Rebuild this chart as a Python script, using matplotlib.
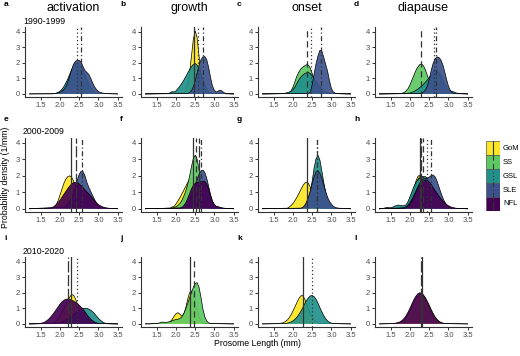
import matplotlib
matplotlib.use("Agg")
import matplotlib.pyplot as plt
from matplotlib.patches import Rectangle

plt.rcParams['font.family'] = ['Liberation Sans', 'DejaVu Sans']

# ---------------- data ----------------
REGIONS = ["GoM", "SS", "GSL", "SLE", "NFL"]
COLORS = {"GoM": "#FDE725", "SS": "#5DC863", "GSL": "#21908C", "SLE": "#3B528B", "NFL": "#440154"}
LINESTYLES = {"GoM": "-", "SS": (0, (5, 3)), "GSL": (0, (1, 2)), "SLE": (0, (4, 2, 1, 2)), "NFL": (0, (9, 2))}
STAGES = ["activation", "growth", "onset", "diapause"]
PERIODS = ["1990-1999", "2000-2009", "2010-2020"]
PANEL_LETTERS = ["a", "b", "c", "d", "e", "f", "g", "h", "i", "j", "k", "l"]
X_RANGE = (1.2, 3.5)
X_TICKS = [1.5, 2.0, 2.5, 3.0, 3.5]
Y_TICKS = [0, 1, 2, 3, 4]

# density curves (prosome length mm, density 1/mm)
a_GSL = [(1.85,0.02),(1.9,0.05),(1.95,0.1),(2.0,0.18),(2.05,0.3),(2.1,0.48),(2.15,0.7),(2.2,0.95),(2.25,1.25),(2.3,1.55),(2.35,1.8),(2.4,1.95),(2.45,2.0),(2.5,1.95),(2.55,1.8),(2.6,1.55),(2.65,1.25),(2.7,0.95),(2.75,0.65),(2.8,0.4),(2.85,0.25),(2.9,0.13),(2.95,0.07),(3.0,0.03)]
a_SLE = [(1.8,0.0),(1.9,0.03),(2.0,0.1),(2.05,0.17),(2.1,0.28),(2.15,0.45),(2.2,0.75),(2.25,1.15),(2.3,1.55),(2.35,1.9),(2.4,2.1),(2.45,2.15),(2.5,2.15),(2.55,2.05),(2.6,1.75),(2.65,1.5),(2.7,1.38),(2.75,1.25),(2.8,1.0),(2.85,0.7),(2.9,0.45),(2.95,0.28),(3.0,0.15),(3.05,0.1),(3.1,0.06),(3.15,0.04),(3.2,0.02),(3.3,0.01)]

b_GoM = [(2.2,0.05),(2.25,0.2),(2.3,0.55),(2.35,1.3),(2.4,2.4),(2.45,3.5),(2.5,4.05),(2.55,3.6),(2.6,2.4),(2.65,1.2),(2.7,0.45),(2.75,0.15),(2.8,0.04)]
b_GSL = [(1.8,0.02),(1.85,0.08),(1.9,0.15),(1.95,0.12),(2.0,0.2),(2.05,0.35),(2.1,0.5),(2.15,0.68),(2.2,0.88),(2.25,1.1),(2.3,1.33),(2.35,1.55),(2.4,1.75),(2.45,1.9),(2.5,1.95),(2.55,1.85),(2.6,1.6),(2.65,1.25),(2.7,0.9),(2.75,0.55),(2.8,0.3),(2.85,0.15),(2.9,0.07),(2.95,0.03)]
b_SLE = [(2.3,0.02),(2.35,0.08),(2.4,0.2),(2.45,0.45),(2.5,0.85),(2.55,1.35),(2.6,1.85),(2.65,2.2),(2.7,2.38),(2.75,2.4),(2.8,2.2),(2.85,1.7),(2.9,1.05),(2.95,0.5),(3.0,0.22),(3.05,0.12),(3.1,0.18),(3.15,0.24),(3.2,0.18),(3.25,0.08),(3.3,0.03)]

c_SS = [(1.85,0.02),(1.9,0.06),(1.95,0.2),(2.0,0.45),(2.05,0.8),(2.1,1.15),(2.15,1.4),(2.2,1.6),(2.25,1.72),(2.3,1.8),(2.35,1.88),(2.4,1.85),(2.45,1.65),(2.5,1.3),(2.55,0.9),(2.6,0.55),(2.65,0.3),(2.7,0.15),(2.75,0.07),(2.8,0.03)]
c_GSL = [(1.75,0.02),(1.8,0.05),(1.85,0.08),(1.9,0.12),(1.95,0.18),(2.0,0.28),(2.05,0.45),(2.1,0.68),(2.15,0.9),(2.2,1.08),(2.25,1.2),(2.3,1.3),(2.35,1.35),(2.4,1.38),(2.45,1.3),(2.5,1.15),(2.55,1.0),(2.6,0.8),(2.65,0.6),(2.7,0.45),(2.75,0.3),(2.8,0.2),(2.85,0.12),(2.9,0.07),(2.95,0.04),(3.0,0.02)]
c_SLE = [(2.4,0.03),(2.45,0.12),(2.5,0.6),(2.55,1.3),(2.6,1.95),(2.65,2.45),(2.7,2.8),(2.75,2.75),(2.8,2.35),(2.85,1.9),(2.9,1.45),(2.95,0.85),(3.0,0.35),(3.05,0.12),(3.1,0.05),(3.15,0.02)]

d_SS = [(1.75,0.02),(1.8,0.05),(1.85,0.1),(1.9,0.2),(1.95,0.35),(2.0,0.6),(2.05,0.9),(2.1,1.2),(2.15,1.5),(2.2,1.72),(2.25,1.88),(2.3,1.93),(2.35,1.8),(2.4,1.55),(2.45,1.2),(2.5,0.85),(2.55,0.55),(2.6,0.3),(2.65,0.15),(2.7,0.07),(2.75,0.03)]
d_GSL = [(1.9,0.02),(2.0,0.06),(2.1,0.15),(2.2,0.3),(2.3,0.5),(2.4,0.75),(2.5,1.05),(2.6,1.4),(2.65,1.55),(2.7,1.55),(2.8,1.2),(2.9,0.6),(3.0,0.25),(3.1,0.15),(3.15,0.12),(3.2,0.06),(3.3,0.02)]
d_SLE = [(2.25,0.02),(2.3,0.05),(2.35,0.12),(2.4,0.25),(2.45,0.5),(2.5,0.95),(2.55,1.5),(2.6,1.95),(2.65,2.25),(2.7,2.38),(2.75,2.35),(2.8,2.2),(2.85,1.9),(2.9,1.45),(2.95,0.95),(3.0,0.5),(3.05,0.22),(3.1,0.08),(3.15,0.03)]

e_GoM = [(1.8,0.03),(1.85,0.1),(1.9,0.25),(1.95,0.5),(2.0,0.85),(2.05,1.2),(2.1,1.55),(2.15,1.8),(2.2,1.95),(2.25,2.0),(2.3,1.92),(2.35,1.7),(2.4,1.35),(2.45,1.0),(2.5,0.65),(2.55,0.4),(2.6,0.22),(2.65,0.1),(2.7,0.04)]
e_SLE = [(2.1,0.1),(2.2,0.3),(2.3,0.7),(2.35,1.0),(2.4,1.35),(2.45,1.75),(2.5,2.1),(2.55,2.28),(2.6,2.25),(2.65,2.0),(2.7,1.6),(2.75,1.3),(2.8,1.05),(2.85,0.8),(2.9,0.55),(2.95,0.35),(3.0,0.2),(3.1,0.08),(3.2,0.03)]
e_NFL = [(1.75,0.03),(1.8,0.07),(1.85,0.15),(1.9,0.25),(1.95,0.38),(2.0,0.52),(2.05,0.7),(2.1,0.88),(2.15,1.05),(2.2,1.22),(2.25,1.38),(2.3,1.5),(2.35,1.58),(2.4,1.6),(2.45,1.58),(2.5,1.5),(2.55,1.4),(2.6,1.28),(2.65,1.15),(2.7,1.02),(2.75,0.9),(2.8,0.78),(2.85,0.62),(2.9,0.48),(2.95,0.35),(3.0,0.25),(3.05,0.18),(3.1,0.12),(3.15,0.08),(3.2,0.05),(3.3,0.02)]

f_GoM = [(1.85,0.03),(1.9,0.06),(1.95,0.15),(2.0,0.3),(2.05,0.48),(2.1,0.68),(2.15,0.9),(2.2,1.12),(2.25,1.35),(2.3,1.58),(2.35,1.75),(2.4,1.85),(2.45,1.8),(2.5,1.6),(2.55,1.3),(2.6,0.95),(2.65,0.62),(2.7,0.35),(2.75,0.18),(2.8,0.08),(2.85,0.03)]
f_SS = [(1.85,0.03),(1.9,0.12),(1.95,0.08),(2.0,0.12),(2.05,0.2),(2.1,0.32),(2.15,0.5),(2.2,0.75),(2.25,1.05),(2.3,1.45),(2.35,1.95),(2.4,2.55),(2.45,3.05),(2.5,3.25),(2.55,3.0),(2.6,2.35),(2.65,1.6),(2.7,0.95),(2.75,0.5),(2.8,0.25),(2.85,0.1),(2.9,0.04)]
f_SLE = [(2.2,0.05),(2.25,0.12),(2.3,0.25),(2.35,0.45),(2.4,0.75),(2.45,1.1),(2.5,1.45),(2.55,1.8),(2.6,2.1),(2.65,2.3),(2.7,2.35),(2.75,2.2),(2.8,1.85),(2.85,1.35),(2.9,0.85),(2.95,0.45),(3.0,0.22),(3.05,0.12),(3.1,0.1),(3.15,0.06),(3.2,0.03)]
f_NFL = [(2.1,0.03),(2.15,0.08),(2.2,0.18),(2.25,0.35),(2.3,0.6),(2.35,0.9),(2.4,1.2),(2.45,1.42),(2.5,1.55),(2.55,1.6),(2.6,1.62),(2.65,1.65),(2.7,1.68),(2.75,1.65),(2.8,1.5),(2.85,1.2),(2.9,0.8),(2.95,0.45),(3.0,0.25),(3.05,0.15),(3.1,0.12),(3.15,0.08),(3.2,0.05),(3.3,0.02)]

g_GoM = [(1.85,0.03),(1.9,0.1),(1.95,0.2),(2.0,0.33),(2.05,0.5),(2.1,0.7),(2.15,0.92),(2.2,1.15),(2.25,1.38),(2.3,1.55),(2.35,1.62),(2.4,1.55),(2.45,1.3),(2.5,0.95),(2.55,0.6),(2.6,0.32),(2.65,0.15),(2.7,0.06),(2.75,0.02)]
g_GSL = [(2.25,0.03),(2.3,0.1),(2.35,0.3),(2.4,0.6),(2.45,1.05),(2.5,1.7),(2.55,2.5),(2.6,3.05),(2.65,3.25),(2.7,2.95),(2.75,2.3),(2.8,1.6),(2.85,1.0),(2.9,0.55),(2.95,0.28),(3.0,0.12),(3.05,0.05),(3.1,0.02)]
g_SLE = [(2.2,0.03),(2.25,0.08),(2.3,0.2),(2.35,0.4),(2.4,0.7),(2.45,1.1),(2.5,1.55),(2.55,1.95),(2.6,2.25),(2.65,2.3),(2.7,2.15),(2.75,1.85),(2.8,1.45),(2.85,1.05),(2.9,0.7),(2.95,0.45),(3.0,0.28),(3.05,0.15),(3.1,0.07),(3.2,0.03),(3.3,0.02),(3.4,0.01)]

h_GoM = [(1.85,0.03),(1.9,0.1),(1.95,0.25),(2.0,0.5),(2.05,0.85),(2.1,1.25),(2.15,1.65),(2.2,1.95),(2.25,2.05),(2.3,1.9),(2.35,1.55),(2.4,1.1),(2.45,0.7),(2.5,0.38),(2.55,0.18),(2.6,0.07),(2.65,0.02)]
h_SS = [(1.8,0.02),(1.85,0.06),(1.9,0.15),(1.95,0.3),(2.0,0.52),(2.05,0.8),(2.1,1.12),(2.15,1.45),(2.2,1.75),(2.25,1.95),(2.3,2.0),(2.35,1.9),(2.4,1.65),(2.45,1.3),(2.5,0.92),(2.55,0.6),(2.6,0.35),(2.65,0.18),(2.7,0.08),(2.75,0.03)]
h_GSL = [(1.4,0.02),(1.5,0.05),(1.55,0.1),(1.6,0.16),(1.65,0.2),(1.7,0.22),(1.75,0.2),(1.8,0.18),(1.85,0.18),(1.9,0.25),(1.95,0.45),(2.0,0.75),(2.05,1.05),(2.1,1.35),(2.15,1.6),(2.2,1.75),(2.25,1.85),(2.3,1.9),(2.35,1.95),(2.4,1.95),(2.45,1.88),(2.5,1.7),(2.55,1.45),(2.6,1.15),(2.65,0.85),(2.7,0.58),(2.75,0.38),(2.8,0.22),(2.85,0.12),(2.9,0.06),(2.95,0.03)]
h_SLE = [(1.3,0.02),(1.35,0.05),(1.4,0.08),(1.45,0.06),(1.5,0.04),(1.6,0.03),(1.7,0.04),(1.8,0.06),(1.9,0.12),(1.95,0.22),(2.0,0.38),(2.05,0.58),(2.1,0.82),(2.15,1.08),(2.2,1.32),(2.25,1.55),(2.3,1.72),(2.35,1.82),(2.4,1.85),(2.45,1.85),(2.5,1.92),(2.55,2.02),(2.6,2.05),(2.65,1.95),(2.7,1.7),(2.75,1.35),(2.8,1.0),(2.85,0.68),(2.9,0.42),(2.95,0.25),(3.0,0.14),(3.05,0.07),(3.1,0.03)]
h_NFL = [(1.85,0.02),(1.9,0.06),(1.95,0.15),(2.0,0.3),(2.05,0.5),(2.1,0.75),(2.15,1.0),(2.2,1.25),(2.25,1.45),(2.3,1.6),(2.35,1.7),(2.4,1.75),(2.45,1.72),(2.5,1.62),(2.55,1.48),(2.6,1.3),(2.65,1.12),(2.7,0.95),(2.75,0.78),(2.8,0.62),(2.85,0.48),(2.9,0.36),(2.95,0.26),(3.0,0.18),(3.05,0.12),(3.1,0.08),(3.15,0.05),(3.2,0.03),(3.3,0.01)]

i_GoM = [(1.8,0.03),(1.85,0.08),(1.9,0.18),(1.95,0.32),(2.0,0.52),(2.05,0.75),(2.1,1.0),(2.15,1.25),(2.2,1.5),(2.25,1.72),(2.3,1.88),(2.35,1.85),(2.4,1.62),(2.45,1.3),(2.5,0.95),(2.55,0.62),(2.6,0.38),(2.65,0.2),(2.7,0.1),(2.75,0.04)]
i_GSL = [(1.9,0.03),(2.0,0.08),(2.1,0.18),(2.2,0.32),(2.3,0.5),(2.4,0.7),(2.45,0.8),(2.5,0.88),(2.55,0.95),(2.6,0.98),(2.65,1.0),(2.7,1.0),(2.75,0.95),(2.8,0.88),(2.85,0.78),(2.9,0.65),(2.95,0.5),(3.0,0.36),(3.05,0.24),(3.1,0.14),(3.15,0.07),(3.2,0.03),(3.25,0.01)]
i_NFL = [(1.45,0.02),(1.5,0.04),(1.55,0.07),(1.6,0.12),(1.65,0.2),(1.7,0.3),(1.75,0.43),(1.8,0.58),(1.85,0.75),(1.9,0.92),(1.95,1.1),(2.0,1.28),(2.05,1.42),(2.1,1.52),(2.15,1.58),(2.2,1.6),(2.25,1.58),(2.3,1.53),(2.35,1.47),(2.4,1.4),(2.45,1.3),(2.5,1.2),(2.55,1.08),(2.6,0.95),(2.65,0.78),(2.7,0.6),(2.75,0.44),(2.8,0.3),(2.85,0.2),(2.9,0.12),(2.95,0.07),(3.0,0.04),(3.05,0.02)]

j_GoM = [(1.55,0.02),(1.6,0.05),(1.65,0.06),(1.7,0.06),(1.75,0.06),(1.8,0.08),(1.85,0.15),(1.9,0.3),(1.95,0.5),(2.0,0.66),(2.05,0.72),(2.1,0.62),(2.15,0.5),(2.2,0.62),(2.25,1.0),(2.3,1.55),(2.35,2.0),(2.4,2.12),(2.45,1.85),(2.5,1.35),(2.55,0.85),(2.6,0.45),(2.65,0.2),(2.7,0.08),(2.75,0.03)]
j_SS = [(1.5,0.02),(1.55,0.05),(1.6,0.1),(1.65,0.12),(1.7,0.1),(1.75,0.1),(1.8,0.12),(1.85,0.15),(1.9,0.2),(1.95,0.25),(2.0,0.28),(2.05,0.3),(2.1,0.35),(2.15,0.45),(2.2,0.65),(2.25,0.95),(2.3,1.3),(2.35,1.65),(2.4,2.0),(2.45,2.35),(2.5,2.6),(2.55,2.65),(2.6,2.35),(2.65,1.7),(2.7,0.95),(2.75,0.45),(2.8,0.18),(2.85,0.07),(2.9,0.02)]

k_GoM = [(1.6,0.02),(1.7,0.05),(1.75,0.08),(1.8,0.15),(1.85,0.25),(1.9,0.4),(1.95,0.6),(2.0,0.85),(2.05,1.1),(2.1,1.38),(2.15,1.62),(2.2,1.8),(2.25,1.82),(2.3,1.62),(2.35,1.3),(2.4,0.95),(2.45,0.65),(2.5,0.42),(2.55,0.25),(2.6,0.14),(2.65,0.07),(2.7,0.03)]
k_GSL = [(1.8,0.02),(1.85,0.05),(1.9,0.08),(1.95,0.13),(2.0,0.2),(2.05,0.3),(2.1,0.43),(2.15,0.6),(2.2,0.8),(2.25,1.03),(2.3,1.28),(2.35,1.5),(2.4,1.68),(2.45,1.8),(2.5,1.83),(2.55,1.75),(2.6,1.58),(2.65,1.33),(2.7,1.05),(2.75,0.78),(2.8,0.53),(2.85,0.33),(2.9,0.19),(2.95,0.1),(3.0,0.05),(3.05,0.02)]

l_GoM = [(1.6,0.02),(1.7,0.06),(1.75,0.1),(1.8,0.17),(1.85,0.27),(1.9,0.42),(1.95,0.62),(2.0,0.87),(2.05,1.15),(2.1,1.42),(2.15,1.65),(2.2,1.82),(2.25,1.92),(2.3,1.93),(2.35,1.85),(2.4,1.68),(2.45,1.45),(2.5,1.2),(2.55,0.93),(2.6,0.68),(2.65,0.46),(2.7,0.3),(2.75,0.18),(2.8,0.1),(2.85,0.05),(2.9,0.02)]
l_NFL = [(1.5,0.02),(1.6,0.04),(1.7,0.09),(1.75,0.15),(1.8,0.24),(1.85,0.37),(1.9,0.55),(1.95,0.77),(2.0,1.02),(2.05,1.3),(2.1,1.56),(2.15,1.78),(2.2,1.93),(2.25,2.0),(2.3,1.97),(2.35,1.85),(2.4,1.65),(2.45,1.4),(2.5,1.13),(2.55,0.86),(2.6,0.62),(2.65,0.42),(2.7,0.27),(2.75,0.16),(2.8,0.09),(2.85,0.05),(2.9,0.02)]

# mean prosome length per region (vertical lines)
MEANS = {
    "a": {"GSL": 2.45, "SLE": 2.55},
    "b": {"GoM": 2.48, "GSL": 2.57, "SLE": 2.71},
    "c": {"SS": 2.36, "GSL": 2.46, "SLE": 2.72},
    "d": {"SS": 2.28, "GSL": 2.62, "SLE": 2.67},
    "e": {"GoM": 2.29, "NFL": 2.41, "SLE": 2.57},
    "f": {"GoM": 2.45, "SS": 2.52, "NFL": 2.6, "SLE": 2.66},
    "g": {"GoM": 2.36, "GSL": 2.62, "SLE": 2.63},
    "h": {"GoM": 2.25, "NFL": 2.29, "SS": 2.33, "GSL": 2.43, "SLE": 2.54},
    "i": {"NFL": 2.21, "GoM": 2.29, "GSL": 2.43},
    "j": {"GoM": 2.37, "SS": 2.47},
    "k": {"GoM": 2.27, "GSL": 2.5},
    "l": {"NFL": 2.29, "GoM": 2.3},
}

CURVES = {
    "a": {"GSL": a_GSL, "SLE": a_SLE},
    "b": {"GoM": b_GoM, "GSL": b_GSL, "SLE": b_SLE},
    "c": {"SS": c_SS, "GSL": c_GSL, "SLE": c_SLE},
    "d": {"SS": d_SS, "GSL": d_GSL, "SLE": d_SLE},
    "e": {"GoM": e_GoM, "SLE": e_SLE, "NFL": e_NFL},
    "f": {"GoM": f_GoM, "SS": f_SS, "SLE": f_SLE, "NFL": f_NFL},
    "g": {"GoM": g_GoM, "GSL": g_GSL, "SLE": g_SLE},
    "h": {"GoM": h_GoM, "SS": h_SS, "GSL": h_GSL, "SLE": h_SLE, "NFL": h_NFL},
    "i": {"GoM": i_GoM, "GSL": i_GSL, "NFL": i_NFL},
    "j": {"GoM": j_GoM, "SS": j_SS},
    "k": {"GoM": k_GoM, "GSL": k_GSL},
    "l": {"GoM": l_GoM, "NFL": l_NFL},
}

# ---------------- layout (pixels) ----------------
W, H = 520, 356
fig = plt.figure(figsize=(W / 100, H / 100), dpi=100)

COL_LEFT = [25, 141, 258, 375]
PANEL_W = 97
ROW_BOX = [(27, 97), (138, 212), (257, 327)]  # top, bottom
YLIM = (-0.2, 4.3)
XLIM = (1.085, 3.615)
AX_COLOR = "#333333"
TICK_TXT = "#4D4D4D"


def px_axes(left, top, right, bottom):
    return fig.add_axes([left / W, 1 - bottom / H, (right - left) / W, (bottom - top) / H])


for r in range(3):
    top, bottom = ROW_BOX[r]
    for c in range(4):
        key = PANEL_LETTERS[r * 4 + c]
        left = COL_LEFT[c]
        ax = px_axes(left, top, left + PANEL_W, bottom)
        z = 2
        for reg in REGIONS:
            if reg not in CURVES[key]:
                continue
            pts = CURVES[key][reg]
            xs = [X_RANGE[0]] + [p[0] for p in pts] + [X_RANGE[1]]
            ys = [0.0] + [p[1] for p in pts] + [0.0]
            ax.fill_between(xs, 0, ys, facecolor=COLORS[reg], alpha=0.92, linewidth=0, zorder=z)
            ax.plot(xs, ys, color="black", lw=0.5, zorder=z + 0.5)
            z += 1
        for reg, m in MEANS[key].items():
            ax.axvline(m, color="#333333", lw=0.9, ls=LINESTYLES[reg], zorder=20)
        ax.set_xlim(*XLIM)
        ax.set_ylim(*YLIM)
        ax.set_xticks(X_TICKS)
        ax.set_xticklabels([f"{t:.1f}" for t in X_TICKS])
        ax.set_yticks(Y_TICKS)
        for s in ["top", "right"]:
            ax.spines[s].set_visible(False)
        for s in ["left", "bottom"]:
            ax.spines[s].set_color(AX_COLOR)
            ax.spines[s].set_linewidth(0.8)
        ax.tick_params(axis="both", length=2.2, width=0.7, color=AX_COLOR, labelsize=5.5,
                       labelcolor=TICK_TXT, pad=1.5)
        # panel letter
        fig.text((left - 21) / W, 1 - (top - 22 + (4 if r > 0 else 0)) / H, key, fontsize=6,
                 fontweight="bold", ha="left", va="center")
        if r == 0:
            fig.text((left + PANEL_W / 2) / W, 1 - 8 / H, STAGES[c], fontsize=9,
                     ha="center", va="center")
        if c == 0:
            fig.text(23 / W, 1 - (top - 6) / H, PERIODS[r], fontsize=6.3, ha="left", va="center")

# axis titles
fig.text(258 / W, 1 - 344 / H, "Prosome Length (mm)", fontsize=6.3, ha="center", va="center")
fig.text(6 / W, 1 - 177 / H, "Probability density (1/mm)", fontsize=6.3, ha="center", va="center",
         rotation=90)

# legend
leg = px_axes(486, 141, 500, 211)
leg.set_xlim(0, 1)
leg.set_ylim(0, len(REGIONS))
leg.axis("off")
for idx, reg in enumerate(REGIONS):
    y0 = len(REGIONS) - idx - 1
    leg.add_patch(Rectangle((0, y0), 1, 1, facecolor=COLORS[reg], edgecolor="#555555", lw=0.5))
    leg.plot([0.5, 0.5], [y0, y0 + 1], color="#333333", lw=0.8, ls=LINESTYLES[reg])
    fig.text(503 / W, 1 - (141 + (idx + 0.5) * 14) / H, reg, fontsize=5.5, ha="left", va="center")

fig.savefig("out.png", dpi=100)
